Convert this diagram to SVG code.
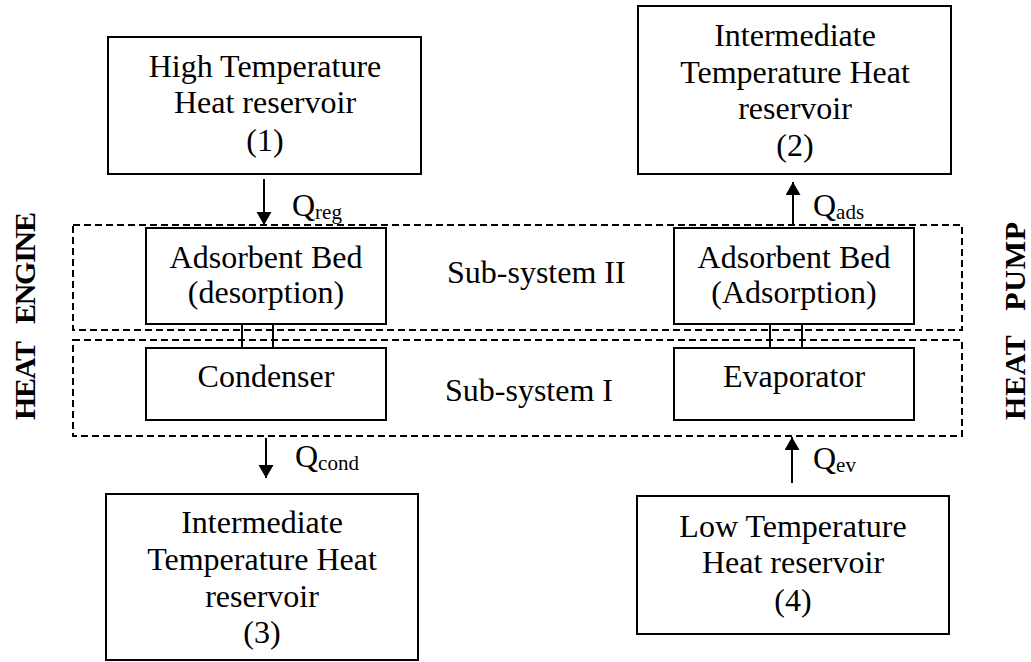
<svg xmlns="http://www.w3.org/2000/svg" width="1031" height="662" viewBox="0 0 1031 662">
<style>
text{font-family:"Liberation Serif","Times New Roman",serif;font-size:32px;fill:#000}
.c{text-anchor:middle}
.box{fill:#fff;stroke:#000;stroke-width:2}
.dash{fill:none;stroke:#000;stroke-width:2;stroke-dasharray:7,4}
.ln{stroke:#000;stroke-width:2;fill:none}
.side{font-weight:bold;font-size:30px;text-anchor:middle}
.sub{font-size:21px}
</style>
<defs>
<marker id="ah" markerUnits="userSpaceOnUse" markerWidth="14" markerHeight="16" refX="13" refY="7.5" orient="auto"><path d="M0,0 L13,7.5 L0,15 z" fill="#000"/></marker>
</defs>
<rect width="1031" height="662" fill="#fff"/>
<g id="subsystem2"><rect class="dash" x="73" y="225" width="889" height="105"/><text x="447" y="283">Sub-system II</text></g>
<g id="subsystem1"><rect class="dash" x="73" y="340" width="889" height="96"/><text x="445" y="401">Sub-system I</text></g>
<g id="connectors">
<line class="ln" x1="264" y1="179" x2="264" y2="225" marker-end="url(#ah)"/>
<line class="ln" x1="793" y1="225" x2="793" y2="182" marker-end="url(#ah)"/>
<line class="ln" x1="266" y1="438" x2="266" y2="478" marker-end="url(#ah)"/>
<line class="ln" x1="792" y1="483" x2="792" y2="437" marker-end="url(#ah)"/>
<line class="ln" x1="242" y1="324" x2="242" y2="348"/>
<line class="ln" x1="273" y1="324" x2="273" y2="348"/>
<line class="ln" x1="770" y1="324" x2="770" y2="348"/>
<line class="ln" x1="802" y1="324" x2="802" y2="348"/>
<text x="292" y="216">Q<tspan class="sub" dy="3">reg</tspan></text>
<text x="813" y="216">Q<tspan class="sub" dy="3">ads</tspan></text>
<text x="295" y="467">Q<tspan class="sub" dy="3">cond</tspan></text>
<text x="813" y="469">Q<tspan class="sub" dy="3">ev</tspan></text>
</g>
<g id="high-temp"><rect class="box" x="108" y="37" width="313" height="137"/>
<text class="c" x="265" y="77">High Temperature</text><text class="c" x="265" y="113">Heat reservoir</text><text class="c" x="265" y="151">(1)</text></g>
<g id="inter-temp-2"><rect class="box" x="638" y="6" width="313" height="168"/>
<text class="c" x="795" y="46">Intermediate</text><text class="c" x="795" y="83">Temperature Heat</text><text class="c" x="795" y="119">reservoir</text><text class="c" x="795" y="156">(2)</text></g>
<g id="bed-desorption"><rect class="box" x="146" y="228" width="240" height="96"/>
<text class="c" x="266" y="268">Adsorbent Bed</text><text class="c" x="266" y="303">(desorption)</text></g>
<g id="bed-adsorption"><rect class="box" x="674" y="228" width="240" height="96"/>
<text class="c" x="794" y="268">Adsorbent Bed</text><text class="c" x="794" y="303">(Adsorption)</text></g>
<g id="condenser"><rect class="box" x="146" y="348" width="240" height="72"/>
<text class="c" x="266" y="387">Condenser</text></g>
<g id="evaporator"><rect class="box" x="674" y="348" width="240" height="72"/>
<text class="c" x="794" y="387">Evaporator</text></g>
<g id="inter-temp-3"><rect class="box" x="106" y="494" width="312" height="166"/>
<text class="c" x="262" y="533">Intermediate</text><text class="c" x="262" y="570">Temperature Heat</text><text class="c" x="262" y="607">reservoir</text><text class="c" x="262" y="643">(3)</text></g>
<g id="low-temp"><rect class="box" x="637" y="496" width="312" height="138"/>
<text class="c" x="793" y="537">Low Temperature</text><text class="c" x="793" y="573">Heat reservoir</text><text class="c" x="793" y="611">(4)</text></g>
<g id="label-engine"><text class="side" transform="translate(35,316) rotate(-90)" textLength="208" lengthAdjust="spacing" xml:space="preserve">HEAT   ENGINE</text></g>
<g id="label-pump"><text class="side" transform="translate(1025,321) rotate(-90)" textLength="198" lengthAdjust="spacing" xml:space="preserve">HEAT   PUMP</text></g>
</svg>
